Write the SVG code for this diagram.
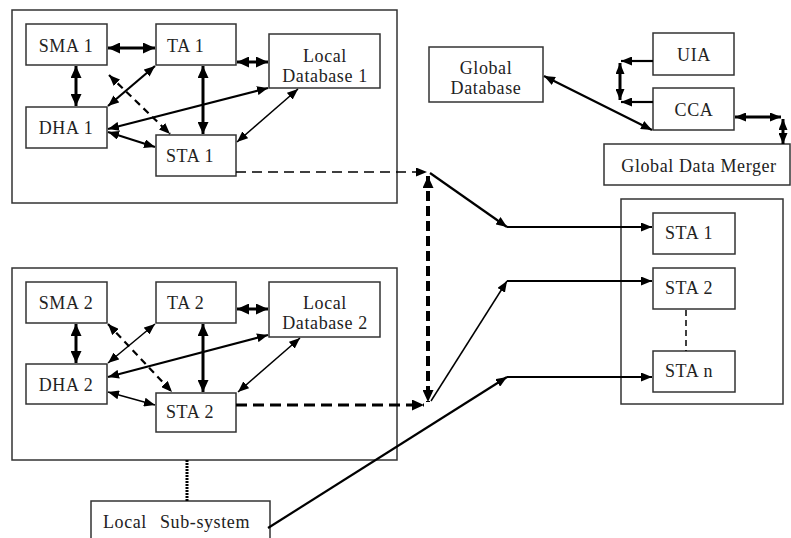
<svg xmlns="http://www.w3.org/2000/svg" width="791" height="538" viewBox="0 0 791 538">
<defs>
<marker id="ah" markerUnits="userSpaceOnUse" markerWidth="11" markerHeight="9" refX="11" refY="4.5" orient="auto-start-reverse"><path d="M0,0 L11,4.5 L0,9 z" fill="#000"/></marker>
<marker id="ahb" markerUnits="userSpaceOnUse" markerWidth="12" markerHeight="11" refX="12" refY="5.5" orient="auto-start-reverse"><path d="M0,0 L12,5.5 L0,11 z" fill="#000"/></marker>
</defs>
<style>
rect{fill:#fff;stroke:#333;stroke-width:1.5}
.grp{fill:none}
text{font-size:18px;fill:#222;letter-spacing:0.6px}
.m{text-anchor:middle}
line{stroke:#000;fill:none}
.t{stroke-width:3}
.md{stroke-width:2.2}
.n{stroke-width:1.5}
.b2{marker-start:url(#ah);marker-end:url(#ah)}
.b3{marker-start:url(#ahb);marker-end:url(#ahb)}
.e2{marker-end:url(#ah)}
.e3{marker-end:url(#ahb)}
</style>
<rect x="0" y="0" width="791" height="538" style="fill:#fff;stroke:none"/>
<g font-family="'Liberation Serif', 'DejaVu Serif', serif">
<g id="subsystem1"><rect class="grp" x="12" y="10" width="385" height="193"/></g>
<g id="subsystem2"><rect class="grp" x="12" y="268" width="385" height="192"/></g>
<g id="sta-group"><rect class="grp" x="621" y="199" width="162" height="205"/></g>
<g id="sma1"><rect x="26" y="24" width="81" height="41"/><text x="66" y="52" class="m">SMA 1</text></g>
<g id="ta1"><rect x="156" y="24" width="80" height="41"/><text x="167" y="52">TA 1</text></g>
<g id="ldb1"><rect x="269" y="34" width="111" height="54"/><text x="325" y="62" class="m">Local</text><text x="325" y="82" class="m">Database 1</text></g>
<g id="dha1"><rect x="26" y="107" width="81" height="41"/><text x="66" y="134" class="m">DHA 1</text></g>
<g id="sta1"><rect x="156" y="135" width="80" height="41"/><text x="166" y="162">STA 1</text></g>
<g id="sma2"><rect x="26" y="282" width="81" height="41"/><text x="66" y="309" class="m">SMA 2</text></g>
<g id="ta2"><rect x="156" y="282" width="80" height="41"/><text x="167" y="309">TA 2</text></g>
<g id="ldb2"><rect x="269" y="282" width="111" height="55"/><text x="325" y="309" class="m">Local</text><text x="325" y="329" class="m">Database 2</text></g>
<g id="dha2"><rect x="26" y="364" width="81" height="40"/><text x="66" y="391" class="m">DHA 2</text></g>
<g id="sta2"><rect x="156" y="393" width="80" height="39"/><text x="166" y="418">STA 2</text></g>
<g id="gdb"><rect x="429" y="47" width="114" height="55"/><text x="486" y="74" class="m">Global</text><text x="486" y="94" class="m">Database</text></g>
<g id="uia"><rect x="653" y="33" width="81" height="42"/><text x="694" y="61" class="m">UIA</text></g>
<g id="cca"><rect x="653" y="88" width="81" height="42"/><text x="694" y="116" class="m">CCA</text></g>
<g id="gdm"><rect x="604" y="144" width="186" height="41"/><text x="699" y="172" class="m">Global Data Merger</text></g>
<g id="rsta1"><rect x="653" y="213" width="82" height="41"/><text x="665" y="239">STA 1</text></g>
<g id="rsta2"><rect x="653" y="268" width="82" height="41"/><text x="665" y="294">STA 2</text></g>
<g id="rstan"><rect x="653" y="351" width="82" height="41"/><text x="665" y="377">STA n</text></g>
<g id="lss"><rect x="91" y="501" width="179" height="45"/><text x="103" y="528">Local</text><text x="160" y="528">Sub-system</text></g>
</g>
<g id="connectors">
<line class="t b3" x1="108" y1="48" x2="155" y2="48"/>
<line class="t b3" x1="76" y1="66" x2="76" y2="106"/>
<line class="t b3" x1="237" y1="62" x2="268" y2="62"/>
<line class="t b3" x1="203" y1="66" x2="203" y2="134"/>
<line class="md b2" x1="108" y1="106" x2="155" y2="66"/>
<line class="md b2" x1="109" y1="75" x2="170" y2="134" stroke-dasharray="7,5"/>
<line class="md b2" x1="108" y1="129" x2="268" y2="88"/>
<line class="md b2" x1="108" y1="132" x2="155" y2="147"/>
<line class="n b2" x1="237" y1="142" x2="298" y2="89"/>
<line class="t b3" x1="76" y1="324" x2="76" y2="363"/>
<line class="md b2" x1="108" y1="324" x2="172" y2="392" stroke-dasharray="7,5"/>
<line class="t b3" x1="237" y1="309" x2="268" y2="309"/>
<line class="t b3" x1="203" y1="324" x2="203" y2="392"/>
<line class="n b2" x1="108" y1="363" x2="155" y2="324"/>
<line class="md b2" x1="108" y1="377" x2="268" y2="335"/>
<line class="n b2" x1="108" y1="392" x2="155" y2="405"/>
<line class="n b2" x1="238" y1="392" x2="300" y2="338"/>
<line class="n e2" x1="236" y1="172" x2="427" y2="172" stroke-dasharray="10,6"/>
<line class="t e3" x1="236" y1="405" x2="424" y2="405" stroke-dasharray="11,6"/>
<line class="b3" x1="428" y1="176" x2="428" y2="402" stroke-width="4" stroke-dasharray="10,5"/>
<line class="md e2" x1="430" y1="173" x2="507" y2="227"/>
<line class="md e2" x1="507" y1="227" x2="652" y2="227"/>
<line class="n e2" x1="431" y1="401" x2="507" y2="281"/>
<line class="md e2" x1="507" y1="281" x2="652" y2="281"/>
<line class="md e2" x1="268" y1="528" x2="507" y2="377"/>
<line class="md e2" x1="507" y1="377" x2="652" y2="377"/>
<line x1="187" y1="460" x2="187" y2="501" stroke-width="3" stroke-dasharray="2,1"/>
<line x1="686" y1="310" x2="686" y2="351" stroke-width="1.5" stroke-dasharray="6,4"/>
<line class="md b2" x1="544" y1="76" x2="652" y2="130"/>
<line class="md e2" x1="653" y1="61" x2="621" y2="61"/>
<line class="md e2" x1="653" y1="102" x2="621" y2="102"/>
<line class="t b2" x1="620" y1="63" x2="620" y2="100"/>
<line class="t b2" x1="735" y1="117" x2="781" y2="117"/>
<line class="t b2" x1="783" y1="119" x2="783" y2="144"/>
</g>
</svg>
